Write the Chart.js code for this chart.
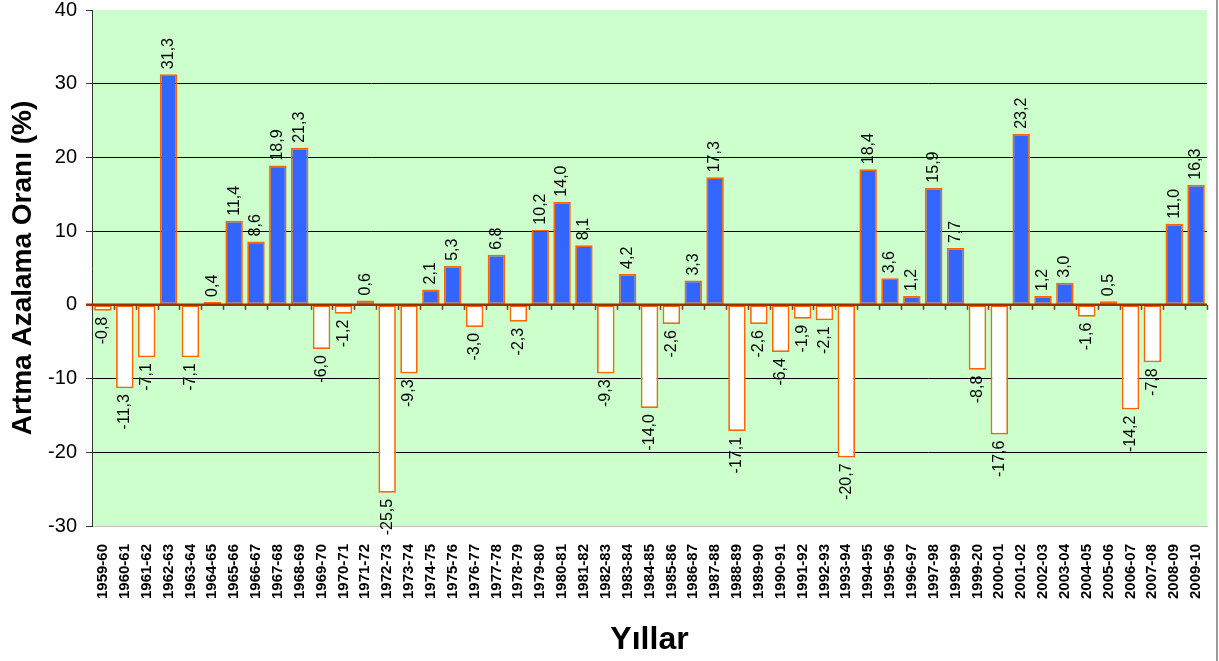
<!DOCTYPE html>
<html>
<head>
<meta charset="utf-8">
<title>Artma Azalama Oranı</title>
<script src="https://cdn.jsdelivr.net/npm/chart.js@4/dist/chart.umd.min.js"></script>
<style>
  html, body { margin: 0; padding: 0; background: #fff; }
  #chart { display: block; }
</style>
</head>
<body>
<canvas id="chart" width="1219" height="661"></canvas>
<script>
/*data*/
const years = ['1959-60', '1960-61', '1961-62', '1962-63', '1963-64', '1964-65', '1965-66', '1966-67', '1967-68', '1968-69',
  '1969-70', '1970-71', '1971-72', '1972-73', '1973-74', '1974-75', '1975-76', '1976-77', '1977-78', '1978-79',
  '1979-80', '1980-81', '1981-82', '1982-83', '1983-84', '1984-85', '1985-86', '1986-87', '1987-88', '1988-89',
  '1989-90', '1990-91', '1991-92', '1992-93', '1993-94', '1994-95', '1995-96', '1996-97', '1997-98', '1998-99',
  '1999-20', '2000-01', '2001-02', '2002-03', '2003-04', '2004-05', '2005-06', '2006-07', '2007-08', '2008-09', '2009-10'];

const rates = [-0.8, -11.3, -7.1, 31.3, -7.1, 0.4, 11.4, 8.6, 18.9, 21.3,
  -6.0, -1.2, 0.6, -25.5, -9.3, 2.1, 5.3, -3.0, 6.8, -2.3,
  10.2, 14.0, 8.1, -9.3, 4.2, -14.0, -2.6, 3.3, 17.3, -17.1,
  -2.6, -6.4, -1.9, -2.1, -20.7, 18.4, 3.6, 1.2, 15.9, 7.7,
  -8.8, -17.6, 23.2, 1.2, 3.0, -1.6, 0.5, -14.2, -7.8, 11.0, 16.3];

const yTicks = [-30, -20, -10, 0, 10, 20, 30, 40];

const fontFam = "Arial, 'Liberation Sans', sans-serif";

/*plugins*/
// green plot background
const plotBg = {
  id: 'plotBg',
  beforeDraw(chart) {
    const { ctx, chartArea: a } = chart;
    ctx.save();
    ctx.fillStyle = '#CCFFCC';
    ctx.fillRect(a.left, a.top, a.right - a.left, a.bottom - a.top);
    ctx.restore();
  }
};

// zero line with small ticks + value labels
const zeroAndLabels = {
  id: 'zeroAndLabels',
  afterDatasetsDraw(chart) {
    const ctx = chart.ctx;
    const a = chart.chartArea;
    const y0 = chart.scales.y.getPixelForValue(0);
    const step = (a.right - a.left) / years.length;

    ctx.save();
    ctx.strokeStyle = '#993300';
    ctx.lineWidth = 1.5;
    for (let i = 0; i <= years.length; i++) {
      let x = Math.round(a.left + i * step) + 0.5;
      ctx.beginPath();
      ctx.moveTo(x, y0);
      ctx.lineTo(x, y0 + 5);
      ctx.stroke();
    }
    ctx.lineWidth = 2.5;
    ctx.beginPath();
    ctx.moveTo(a.left - 6, y0);
    ctx.lineTo(a.right, y0);
    ctx.stroke();

    const meta = chart.getDatasetMeta(0);
    ctx.fillStyle = '#000';
    ctx.font = '16px ' + fontFam;
    ctx.textBaseline = 'middle';
    meta.data.forEach(function (bar, i) {
      let v = rates[i];
      let txt = v.toFixed(1).replace('.', ',');
      ctx.save();
      if (v >= 0) {
        ctx.translate(bar.x, bar.y - 5);
        ctx.rotate(-Math.PI / 2);
        ctx.textAlign = 'left';
      } else {
        ctx.translate(bar.x, bar.y + 6);
        ctx.rotate(-Math.PI / 2);
        ctx.textAlign = 'right';
      }
      ctx.fillText(txt, 0, 0);
      ctx.restore();
    });

    // outer frame edge on the right
    ctx.strokeStyle = '#9a9a9a';
    ctx.lineWidth = 2;
    ctx.beginPath();
    ctx.moveTo(1217, 0);
    ctx.lineTo(1217, 661);
    ctx.stroke();
    ctx.restore();
  }
};

/*chart*/
const chart = new Chart(document.getElementById('chart'), {
  type: 'bar',
  data: {
    labels: years,
    datasets: [{
      data: rates,
      backgroundColor: rates.map(v => v >= 0 ? '#3366FF' : '#FFFFFF'),
      borderColor: '#FF6600',
      borderWidth: 1.75,
      borderSkipped: false,
      barPercentage: 0.8,
      categoryPercentage: 1
    }]
  },
  options: {
    responsive: false,
    animation: false,
    layout: { padding: { left: 0, top: 10, right: 12, bottom: 0 } },
    plugins: {
      legend: { display: false },
      tooltip: { enabled: false }
    },
    scales: {
      x: {
        grid: { display: false },
        border: { display: true, color: '#c0c0c0', width: 1 },
        ticks: {
          autoSkip: false,
          minRotation: 90,
          maxRotation: 90,
          padding: 10,
          color: '#000',
          font: { family: fontFam, size: 15, weight: 'bold' }
        },
        title: {
          display: true,
          text: 'Yıllar',
          color: '#000',
          font: { family: fontFam, size: 32, weight: 'bold' },
          padding: { top: 0, bottom: 2 }
        },
        afterFit: function (s) {
          s.height = 135;
          s.paddingLeft = 0;
          s.paddingRight = 0;
        }
      },
      y: {
        min: -30,
        max: 40,
        afterBuildTicks: function (s) { s.ticks = yTicks.map(v => ({ value: v })); },
        grid: {
          color: function (c) {
            let v = c.tick && c.tick.value;
            if (v === 40 || v === 0) return 'rgba(0,0,0,0)';
            if (v === -30) return '#c0c0c0';
            return '#000';
          },
          tickColor: '#333',
          tickLength: 6,
          lineWidth: 1
        },
        border: { display: true, color: '#333', width: 1 },
        ticks: {
          padding: 9,
          color: '#000',
          font: { family: fontFam, size: 20, lineHeight: 1 }
        },
        title: {
          display: true,
          text: 'Artma Azalama Oranı (%)',
          color: '#000',
          font: { family: fontFam, size: 28, weight: 'bold' },
          padding: { top: 6, bottom: 0 }
        },
        afterFit: function (s) {
          s.width = 92;
          s.paddingTop = 0;
          s.paddingBottom = 0;
        }
      }
    }
  },
  plugins: [plotBg, zeroAndLabels]
});
</script>
</body>
</html>
